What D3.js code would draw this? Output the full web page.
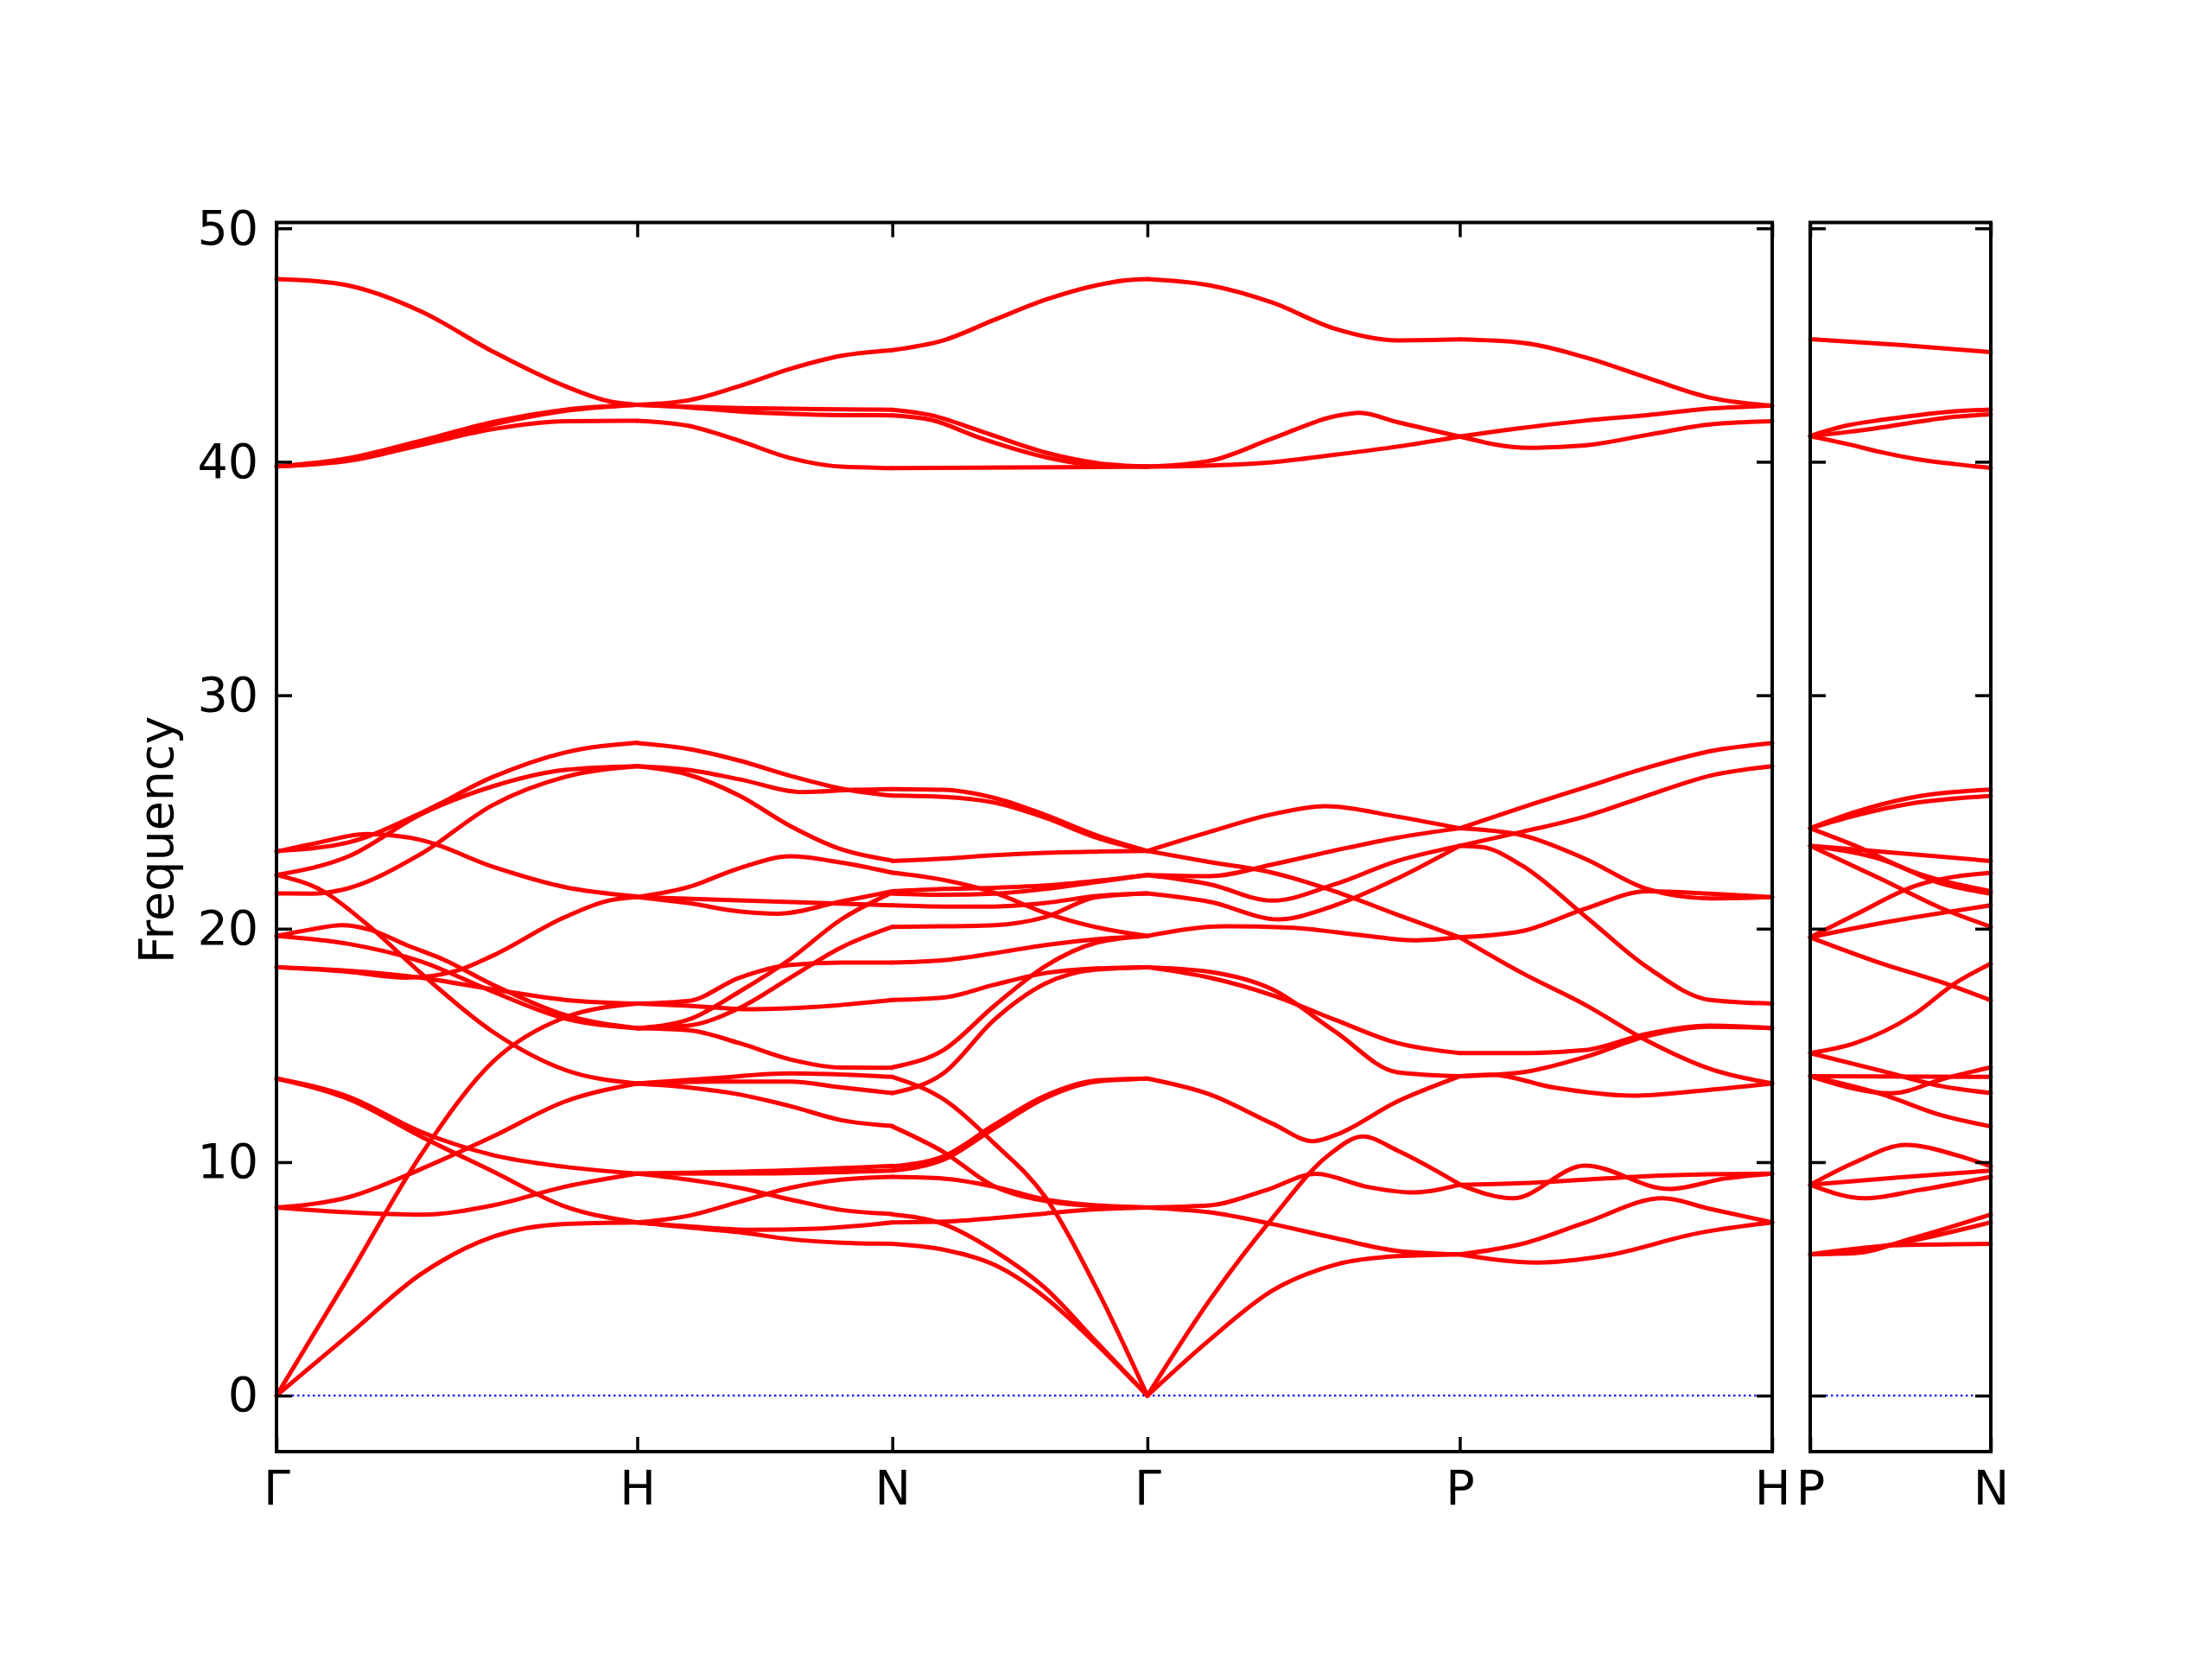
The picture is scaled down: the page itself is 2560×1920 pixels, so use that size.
<!DOCTYPE html>
<html>
<head>
<meta charset="utf-8">
<script src="https://cdnjs.cloudflare.com/ajax/libs/d3/7.8.5/d3.min.js"></script>
<style>
	body { margin: 0; background: #fff; }
</style>
</head>
<body>
<div id="chart-area"></div>
<script>
const width = 2560
const height = 1920

// panel boxes (px)
const main = { left: 320, right: 2051, top: 257.5, bottom: 1680 }
const side = { left: 2095, right: 2304, top: 257.5, bottom: 1680 }

// high symmetry path, segment lengths in 2pi/a
const pathLabels = ["Γ", "H", "N", "Γ", "P", "H"]
const pathLengths = [1, 0.7071, 0.7071, 0.8660, 0.8660]
const sideLabels = ["P", "N"]
const sideLengths = [0.5]

const yTicks = [0, 10, 20, 30, 40, 50]

// bands per segment: [fraction along segment, frequency]
const gammaH = [
	[[0,47.83],[0.1,47.75],[0.2,47.55],[0.4,46.45],[0.6,44.72],[0.8,43.24],[0.92,42.6],[1,42.44]],
	[[0,39.8],[0.2,40.16],[0.4,40.9],[0.6,41.7],[0.8,42.23],[1,42.44]],
	[[0,39.8],[0.2,40.1],[0.4,40.8],[0.6,41.6],[0.8,42.18],[1,42.44]],
	[[0,39.8],[0.2,40.04],[0.4,40.72],[0.6,41.4],[0.8,41.74],[1,41.76]],
	[[0,23.33],[0.2,23.7],[0.4,24.95],[0.6,26.5],[0.8,27.55],[1,27.97]],
	[[0,22.3],[0.2,23.1],[0.4,24.9],[0.6,26.1],[0.8,26.8],[1,26.96]],
	[[0,21.51],[0.1,21.5],[0.18,21.66],[0.4,23.2],[0.6,25.3],[0.8,26.5],[1,26.96]],
	[[0,23.3],[0.12,23.7],[0.25,24.05],[0.4,23.8],[0.6,22.65],[0.8,21.78],[1,21.38]],
	[[0,22.3],[0.13,21.6],[0.25,20.2],[0.4,18.1],[0.6,15.58],[0.8,13.95],[1,13.37]],
	[[0,19.69],[0.09,19.95],[0.18,20.15],[0.26,19.95],[0.36,19.3],[0.46,18.7],[0.6,17.6],[0.8,16.3],[1,15.74]],
	[[0,19.69],[0.2,19.35],[0.4,18.6],[0.6,17.3],[0.8,16.15],[1,15.74]],
	[[0,18.35],[0.2,18.2],[0.4,17.9],[0.6,17.4],[0.8,16.95],[1,16.79]],
	[[0,18.35],[0.2,18.15],[0.36,17.9],[0.5,18.2],[0.6,18.85],[0.8,20.5],[0.92,21.2],[1,21.35]],
	[[0,0],[0.2,5.1],[0.4,10.3],[0.6,14.3],[0.8,16.2],[1,16.79]],
	[[0,0],[0.2,2.6],[0.4,5.2],[0.6,6.8],[0.8,7.35],[1,7.42]],
	[[0,8.06],[0.2,8.5],[0.4,9.7],[0.6,11.1],[0.8,12.6],[1,13.37]],
	[[0,8.06],[0.2,7.85],[0.4,7.75],[0.6,8.15],[0.8,8.95],[1,9.51]],
	[[0,13.58],[0.2,12.8],[0.4,11.3],[0.6,10.3],[0.8,9.8],[1,9.51]],
	[[0,13.58],[0.2,12.7],[0.4,11.1],[0.6,9.6],[0.8,8.1],[1,7.42]]
]

const hN = [
	[[0,42.44],[0.2,42.63],[0.4,43.24],[0.6,43.98],[0.8,44.54],[1,44.78]],
	[[0,42.44],[0.2,42.36],[0.4,42.3],[0.6,42.27],[0.8,42.25],[1,42.23]],
	[[0,42.44],[0.2,42.33],[0.4,42.15],[0.6,42.05],[0.8,42.0],[1,41.99]],
	[[0,41.76],[0.2,41.54],[0.4,40.9],[0.6,40.16],[0.8,39.79],[1,39.73]],
	[[0,27.95],[0.2,27.7],[0.4,27.2],[0.6,26.55],[0.8,26.0],[1,25.7]],
	[[0,26.96],[0.2,26.8],[0.4,26.4],[0.65,25.85],[0.85,25.95],[1,25.98]],
	[[0,26.96],[0.2,26.6],[0.4,25.7],[0.6,24.4],[0.8,23.4],[1,22.92]],
	[[0,21.35],[0.2,21.78],[0.4,22.59],[0.6,23.1],[0.8,22.83],[1,22.4]],
	[[0,21.35],[0.5,21.18],[1,21.0]],
	[[0,21.35],[0.2,21.1],[0.4,20.74],[0.55,20.64],[0.8,21.17],[1,21.6]],
	[[0,16.79],[0.2,16.9],[0.4,17.9],[0.6,18.45],[0.8,18.55],[1,18.55]],
	[[0,16.79],[0.2,16.7],[0.45,16.55],[0.7,16.65],[1,16.95]],
	[[0,15.74],[0.2,16.1],[0.4,17.3],[0.6,18.7],[0.8,20.4],[1,21.55]],
	[[0,15.74],[0.2,15.85],[0.4,16.6],[0.6,17.9],[0.8,19.2],[1,20.08]],
	[[0,15.74],[0.2,15.65],[0.4,15.1],[0.6,14.4],[0.8,14.05],[1,14.04]],
	[[0,13.37],[0.3,13.6],[0.6,13.8],[1,13.65]],
	[[0,13.37],[0.3,13.45],[0.6,13.45],[0.8,13.2],[1,12.96]],
	[[0,13.37],[0.2,13.2],[0.4,12.9],[0.6,12.4],[0.8,11.8],[1,11.55]],
	[[0,9.51],[0.5,9.62],[1,9.84]],
	[[0,9.51],[0.5,9.52],[1,9.64]],
	[[0,9.51],[0.2,9.25],[0.4,8.9],[0.6,8.4],[0.8,7.95],[1,7.78]],
	[[0,7.42],[0.2,7.7],[0.4,8.3],[0.6,8.9],[0.8,9.25],[1,9.37]],
	[[0,7.42],[0.2,7.25],[0.45,7.1],[0.7,7.15],[1,7.42]],
	[[0,7.42],[0.2,7.2],[0.4,7.0],[0.6,6.7],[0.8,6.55],[1,6.5]]
]

const nGamma = [
	[[0,44.78],[0.2,45.2],[0.4,46.08],[0.6,46.94],[0.8,47.56],[0.92,47.78],[1,47.83]],
	[[0,42.23],[0.15,42.0],[0.35,41.3],[0.6,40.4],[0.8,39.95],[1,39.79]],
	[[0,41.99],[0.15,41.8],[0.35,41.0],[0.6,40.2],[0.8,39.85],[1,39.79]],
	[[0,39.73],[1,39.79]],
	[[0,25.98],[0.2,25.95],[0.4,25.6],[0.6,24.87],[0.8,24.0],[1,23.33]],
	[[0,25.7],[0.2,25.65],[0.4,25.4],[0.6,24.75],[0.8,23.9],[1,23.33]],
	[[0,22.9],[0.2,23.0],[0.4,23.15],[0.6,23.25],[0.8,23.3],[1,23.33]],
	[[0,22.4],[0.2,22.09],[0.4,21.54],[0.6,20.67],[0.8,20.06],[1,19.69]],
	[[0,21.6],[0.2,21.7],[0.4,21.75],[0.6,21.85],[0.8,22.05],[1,22.3]],
	[[0,21.5],[0.2,21.45],[0.4,21.5],[0.6,21.7],[0.8,22.0],[1,22.3]],
	[[0,21.0],[0.2,20.95],[0.4,20.95],[0.6,21.1],[0.8,21.4],[1,21.51]],
	[[0,20.08],[0.2,20.1],[0.4,20.15],[0.6,20.5],[0.8,21.35],[1,21.51]],
	[[0,18.55],[0.2,18.65],[0.4,18.95],[0.6,19.3],[0.8,19.55],[1,19.69]],
	[[0,16.95],[0.2,17.05],[0.4,17.6],[0.6,18.1],[0.8,18.3],[1,18.35]],
	[[0,14.06],[0.2,14.8],[0.4,16.7],[0.6,18.4],[0.8,19.4],[1,19.69]],
	[[0,13.65],[0.2,12.7],[0.4,10.8],[0.6,8.5],[0.8,4.6],[1,0]],
	[[0,12.96],[0.2,13.8],[0.4,16.1],[0.6,17.65],[0.8,18.25],[1,18.35]],
	[[0,11.53],[0.2,10.44],[0.4,8.96],[0.6,8.34],[0.8,8.12],[1,8.06]],
	[[0,9.82],[0.2,10.25],[0.4,11.6],[0.6,12.85],[0.8,13.5],[1,13.58]],
	[[0,9.64],[0.2,10.1],[0.4,11.45],[0.6,12.75],[0.8,13.45],[1,13.58]],
	[[0,9.37],[0.2,9.3],[0.4,8.95],[0.6,8.4],[0.8,8.15],[1,8.06]],
	[[0,7.76],[0.2,7.35],[0.4,6.2],[0.6,4.6],[0.8,2.3],[1,0]],
	[[0,7.42],[0.2,7.45],[0.4,7.6],[0.6,7.8],[0.8,7.98],[1,8.06]],
	[[0,6.5],[0.2,6.25],[0.4,5.6],[0.6,4.2],[0.8,2.2],[1,0]]
]

const gammaP = [
	[[0,47.83],[0.2,47.56],[0.4,46.82],[0.6,45.7],[0.8,45.2],[1,45.24]],
	[[0,39.79],[0.2,40.04],[0.4,41.0],[0.6,41.95],[0.68,42.1],[0.8,41.7],[1,41.08]],
	[[0,39.79],[0.2,39.84],[0.4,39.98],[0.6,40.3],[0.8,40.65],[1,41.08]],
	[[0,23.33],[0.2,24.15],[0.4,24.9],[0.57,25.25],[0.8,24.8],[1,24.3]],
	[[0,23.33],[0.2,22.85],[0.4,22.4],[0.6,21.6],[0.8,20.6],[1,19.63]],
	[[0,22.3],[0.2,22.25],[0.4,22.75],[0.6,23.35],[0.8,23.9],[1,24.3]],
	[[0,22.3],[0.2,21.9],[0.4,21.2],[0.6,21.9],[0.8,22.9],[1,23.55]],
	[[0,21.51],[0.2,21.15],[0.42,20.4],[0.6,21.0],[0.8,22.15],[1,23.55]],
	[[0,19.69],[0.25,20.1],[0.45,20.05],[0.7,19.7],[0.85,19.5],[1,19.63]],
	[[0,18.35],[0.2,17.9],[0.4,17.15],[0.6,16.1],[0.8,15.1],[1,14.67]],
	[[0,18.35],[0.2,18.15],[0.4,17.4],[0.6,15.6],[0.8,13.85],[1,13.68]],
	[[0,13.58],[0.2,12.9],[0.4,11.65],[0.53,10.9],[0.6,11.15],[0.8,12.6],[1,13.68]],
	[[0,0],[0.2,4.1],[0.4,7.6],[0.58,10.3],[0.69,11.1],[0.8,10.5],[1,9.05]],
	[[0,8.06],[0.2,8.15],[0.38,8.8],[0.54,9.5],[0.7,8.95],[0.85,8.7],[1,9.03]],
	[[0,8.06],[0.2,7.85],[0.4,7.35],[0.6,6.75],[0.8,6.2],[1,6.05]],
	[[0,0],[0.2,2.4],[0.4,4.5],[0.6,5.6],[0.8,5.97],[1,6.05]]
]

const pH = [
	[[0,45.24],[0.2,45.1],[0.4,44.48],[0.6,43.6],[0.8,42.75],[1,42.4]],
	[[0,41.08],[0.22,40.6],[0.4,40.7],[0.6,41.15],[0.8,41.6],[1,41.74]],
	[[0,41.08],[0.2,41.45],[0.4,41.76],[0.6,42.0],[0.8,42.28],[1,42.4]],
	[[0,24.3],[0.2,25.2],[0.4,26.05],[0.6,26.9],[0.8,27.6],[1,27.95]],
	[[0,23.55],[0.2,24.15],[0.4,24.8],[0.6,25.7],[0.8,26.55],[1,26.96]],
	[[0,24.3],[0.2,24.0],[0.4,23.0],[0.6,21.7],[0.8,21.3],[1,21.35]],
	[[0,23.55],[0.07,23.5],[0.2,22.7],[0.4,20.55],[0.6,18.35],[0.8,16.95],[1,16.79]],
	[[0,19.63],[0.2,18.1],[0.4,16.75],[0.6,15.2],[0.8,14.0],[1,13.37]],
	[[0,19.63],[0.2,19.9],[0.4,20.85],[0.6,21.6],[0.8,21.5],[1,21.35]],
	[[0,14.67],[0.2,14.67],[0.4,14.8],[0.6,15.5],[0.8,15.85],[1,15.74]],
	[[0,13.68],[0.2,13.85],[0.4,14.5],[0.6,15.4],[0.8,15.8],[1,15.74]],
	[[0,13.68],[0.1,13.75],[0.3,13.2],[0.55,12.85],[0.8,13.1],[1,13.37]],
	[[0,9.03],[0.17,8.45],[0.4,9.85],[0.67,8.85],[0.85,9.3],[1,9.51]],
	[[0,9.03],[0.2,9.1],[0.4,9.25],[0.6,9.4],[0.8,9.48],[1,9.51]],
	[[0,6.05],[0.2,6.5],[0.4,7.4],[0.65,8.45],[0.8,8.0],[1,7.42]],
	[[0,6.05],[0.25,5.7],[0.47,6.0],[0.76,6.95],[1,7.42]]
]

const pN = [
	[[0,45.25],[0.5,45.0],[1,44.7]],
	[[0,41.1],[0.2,41.55],[0.4,41.8],[0.6,42.0],[0.8,42.16],[1,42.24]],
	[[0,41.1],[0.2,41.27],[0.4,41.48],[0.6,41.72],[0.8,41.93],[1,42.03]],
	[[0,41.1],[0.2,40.77],[0.4,40.4],[0.6,40.1],[0.8,39.9],[1,39.74]],
	[[0,24.3],[0.25,25.0],[0.55,25.6],[1,25.96]],
	[[0,24.3],[0.25,24.85],[0.55,25.35],[1,25.68]],
	[[0,23.55],[0.4,23.3],[1,22.9]],
	[[0,24.3],[0.25,23.55],[0.55,22.5],[1,21.6]],
	[[0,23.55],[0.4,22.95],[0.72,21.95],[1,21.5]],
	[[0,23.55],[0.4,22.1],[0.72,20.9],[1,20.08]],
	[[0,19.63],[0.25,20.6],[0.57,21.8],[1,22.4]],
	[[0,19.63],[0.4,20.25],[1,21.0]],
	[[0,19.63],[0.4,18.5],[0.73,17.7],[1,16.93]],
	[[0,14.67],[0.25,15.1],[0.57,16.3],[0.81,17.7],[1,18.5]],
	[[0,14.67],[0.4,13.9],[0.73,13.25],[1,12.96]],
	[[0,13.68],[1,13.65]],
	[[0,13.68],[0.45,12.95],[0.75,13.6],[1,14.06]],
	[[0,13.68],[0.4,12.9],[0.73,12.0],[1,11.53]],
	[[0,9.03],[0.25,10.0],[0.53,10.74],[0.81,10.3],[1,9.82]],
	[[0,9.03],[0.5,9.35],[1,9.64]],
	[[0,9.03],[0.3,8.45],[0.6,8.8],[1,9.37]],
	[[0,6.05],[0.25,6.1],[0.57,6.75],[1,7.76]],
	[[0,6.05],[0.4,6.4],[1,7.42]],
	[[0,6.05],[0.5,6.45],[1,6.5]]
]

// cumulative distances
let mainCum = [0]
pathLengths.forEach(l => mainCum.push(mainCum[mainCum.length - 1] + l))
let sideCum = [0]
sideLengths.forEach(l => sideCum.push(sideCum[sideCum.length - 1] + l))

const xMain = d3.scaleLinear()
	.domain([0, mainCum[mainCum.length - 1]])
	.range([main.left, main.right])

const xSide = d3.scaleLinear()
	.domain([0, sideCum[sideCum.length - 1]])
	.range([side.left, side.right])

const yScale = d3.scaleLinear()
	.domain([-2.4, 50.25])
	.range([main.bottom, main.top])

const segments = [
	{ x: xMain, start: mainCum[0], len: pathLengths[0], bands: gammaH },
	{ x: xMain, start: mainCum[1], len: pathLengths[1], bands: hN },
	{ x: xMain, start: mainCum[2], len: pathLengths[2], bands: nGamma },
	{ x: xMain, start: mainCum[3], len: pathLengths[3], bands: gammaP },
	{ x: xMain, start: mainCum[4], len: pathLengths[4], bands: pH },
	{ x: xSide, start: sideCum[0], len: sideLengths[0], bands: pN }
]

const svg = d3.select('#chart-area')
	.append('svg')
	.attr('width', width)
	.attr('height', height)
	.style('background', '#fff')
	.style('font-family', '"DejaVu Sans", sans-serif')

const fontSize = 55.5
const tickLen = 18

const panels = [
	{ box: main, x: xMain, cum: mainCum, labels: pathLabels, yLabels: true },
	{ box: side, x: xSide, cum: sideCum, labels: sideLabels, yLabels: false }
]

// zero line
panels.forEach(p => {
	svg.append('line')
		.attr('x1', p.box.left)
		.attr('x2', p.box.right)
		.attr('y1', yScale(0))
		.attr('y2', yScale(0))
		.attr('stroke', '#0000ff')
		.attr('stroke-width', 2.4)
		.attr('stroke-dasharray', '2.4,3.6')
})

// bands
const line = d3.line().curve(d3.curveMonotoneX)

segments.forEach(seg => {
	svg.append('g')
		.selectAll('path')
		.data(seg.bands)
		.join('path')
		.attr('d', band => line(band.map(p => [seg.x(seg.start + p[0] * seg.len), yScale(p[1])])))
		.attr('fill', 'none')
		.attr('stroke', '#ff0000')
		.attr('stroke-width', 5)
		.attr('stroke-linejoin', 'round')
		.attr('stroke-linecap', 'round')
})

// axes
panels.forEach(p => {
	let left = d3.axisLeft(yScale)
		.tickValues(yTicks)
		.tickSize(-tickLen)
		.tickSizeOuter(0)
		.tickPadding(21)
		.tickFormat(p.yLabels ? d3.format('d') : '')

	let right = d3.axisRight(yScale)
		.tickValues(yTicks)
		.tickSize(-tickLen)
		.tickSizeOuter(0)
		.tickFormat('')

	let bottom = d3.axisBottom(p.x)
		.tickValues(p.cum)
		.tickSize(-17)
		.tickSizeOuter(0)
		.tickPadding(22)
		.tickFormat((d, i) => p.labels[i])

	let top = d3.axisTop(p.x)
		.tickValues(p.cum)
		.tickSize(-17)
		.tickSizeOuter(0)
		.tickFormat('')

	svg.append('g').attr('transform', 'translate(' + p.box.left + ',0)').call(left)
	svg.append('g').attr('transform', 'translate(' + p.box.right + ',0)').call(right)
	svg.append('g').attr('transform', 'translate(0,' + p.box.bottom + ')').call(bottom)
	svg.append('g').attr('transform', 'translate(0,' + p.box.top + ')').call(top)

	svg.append('rect')
		.attr('x', p.box.left)
		.attr('y', p.box.top)
		.attr('width', p.box.right - p.box.left)
		.attr('height', p.box.bottom - p.box.top)
		.attr('fill', 'none')
		.attr('stroke', '#000')
		.attr('stroke-width', 4)
})

svg.selectAll('.domain').remove()
svg.selectAll('.tick line')
	.attr('stroke', '#000')
	.attr('stroke-width', 3.5)
svg.selectAll('.tick text')
	.attr('fill', '#000')
	.style('font-family', '"DejaVu Sans", sans-serif')
	.style('font-size', fontSize + 'px')

// y axis label
svg.append('text')
	.attr('transform', 'translate(200,972) rotate(-90)')
	.attr('text-anchor', 'middle')
	.style('font-family', '"DejaVu Sans", sans-serif')
	.style('font-size', fontSize + 'px')
	.text('Frequency')
</script>
</body>
</html>
